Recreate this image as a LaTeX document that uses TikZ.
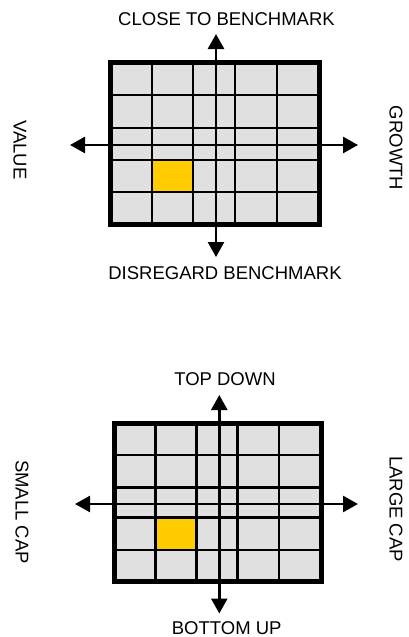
\documentclass[tikz,border=0pt]{standalone}
\usepackage{fontspec}
\setmainfont{Liberation Sans}
\usetikzlibrary{arrows.meta}

\definecolor{cellgray}{HTML}{E0E0E0}
\definecolor{pickyellow}{HTML}{FFCC00}

\tikzset{
  cellline/.style={line width=2.6pt, black},
  frameline/.style={line width=5pt, black},
  axisline/.style={line width=2.6pt, black,
    arrows={Triangle[length=15pt,width=16pt]-Triangle[length=15pt,width=16pt]}},
  axislabel/.style={font=\fontsize{18.5}{22}\selectfont, inner sep=0pt},
}

\begin{document}
\begin{tikzpicture}[x=1pt, y=-1pt]
\useasboundingbox (0,0) rectangle (409,637);

% ---------- upper box: benchmark / value-growth ----------
\fill[cellgray] (110,62.5) rectangle (319,224);
\fill[pickyellow] (152,160) rectangle (193,192);
\foreach \gx in {152,193,235,277} \draw[cellline] (\gx,62.5) -- (\gx,224);
\foreach \gy in {95,128,160,192} \draw[cellline] (110,\gy) -- (319,\gy);
\draw[frameline] (110,62.5) rectangle (319,224);

\coordinate (ua-top) at (216,34);
\coordinate (ua-bot) at (216,257);
\coordinate (ua-left) at (70,145);
\coordinate (ua-right) at (358,145);
\draw[axisline] (ua-top) -- (ua-bot);
\draw[axisline] (ua-left) -- (ua-right);

\node[axislabel, anchor=base] (u-close) at (226.5,25) {CLOSE TO BENCHMARK};
\node[axislabel, anchor=base] (u-disr) at (225,279) {DISREGARD BENCHMARK};
\node[axislabel, rotate=-90] (u-value) at (20,150) {VALUE};
\node[axislabel, rotate=-90] (u-growth) at (396,148) {GROWTH};

% ---------- lower box: top down / size ----------
\fill[cellgray] (114,423) rectangle (321,581.5);
\fill[pickyellow] (155.7,517.3) rectangle (196.7,550);
\foreach \gx in {155.7,196.7,237.7,279} \draw[cellline] (\gx,423) -- (\gx,581.5);
\foreach \gy in {455,487.3,517.3,550} \draw[cellline] (114,\gy) -- (321,\gy);
\draw[frameline] (114,423) rectangle (321,581.5);

\coordinate (la-top) at (219.3,395);
\coordinate (la-bot) at (219.3,613.5);
\coordinate (la-left) at (75,504);
\coordinate (la-right) at (358,504);
\draw[axisline] (la-top) -- (la-bot);
\draw[axisline] (la-left) -- (la-right);

\node[axislabel, anchor=base] (l-top) at (225,385) {TOP DOWN};
\node[axislabel, anchor=base] (l-bottom) at (226.7,634) {BOTTOM UP};
\node[axislabel, rotate=-90] (l-small) at (22,512) {SMALL CAP};
\node[axislabel, rotate=-90] (l-large) at (396,509) {LARGE CAP};
\end{tikzpicture}
\end{document}
